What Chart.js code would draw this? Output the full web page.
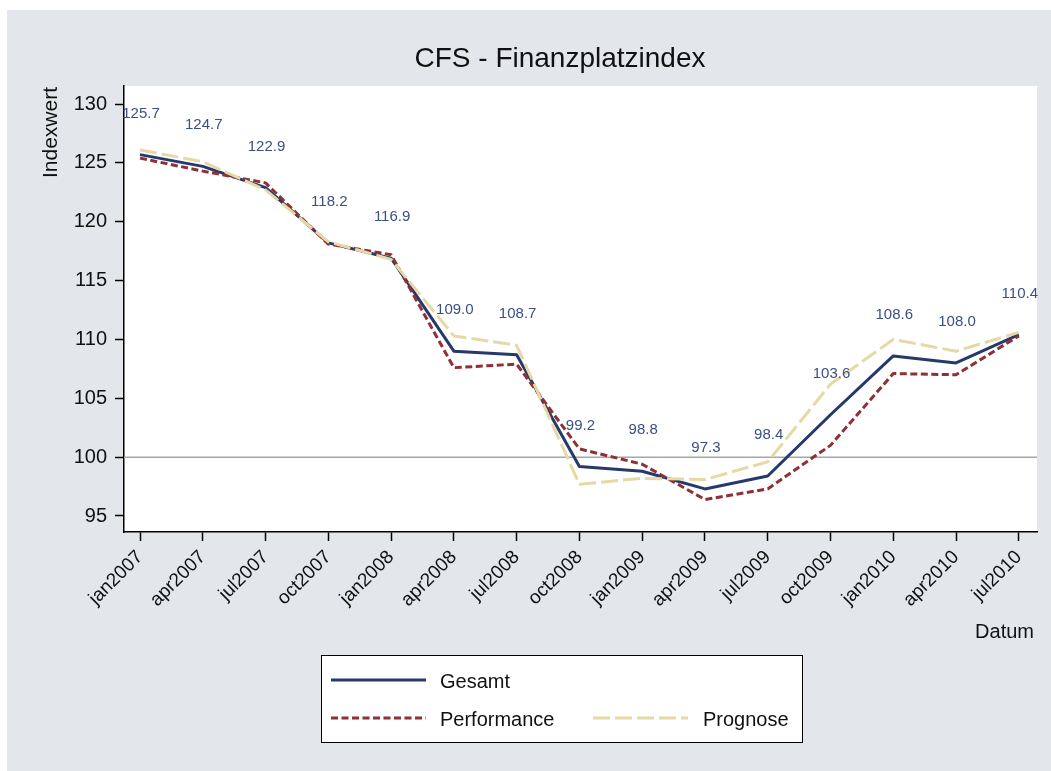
<!DOCTYPE html>
<html>
<head>
<meta charset="utf-8">
<script src="https://cdn.jsdelivr.net/npm/chart.js@4.4.1/dist/chart.umd.min.js"></script>
<style>
    body { margin: 0; background: #ffffff; }
    canvas { display: block; }
</style>
</head>
<body>
<canvas id="chart" width="1051" height="771"></canvas>
<script>
const dateLabels = ["jan2007", "apr2007", "jul2007", "oct2007", "jan2008", "apr2008", "jul2008", "oct2008",
    "jan2009", "apr2009", "jul2009", "oct2009", "jan2010", "apr2010", "jul2010"]
const gesamt = [125.7, 124.7, 122.9, 118.2, 116.9, 109.0, 108.7, 99.2, 98.8, 97.3, 98.4, 103.6, 108.6, 108.0, 110.4]
const performance = [125.4, 124.3, 123.3, 118.1, 117.2, 107.6, 107.9, 100.7, 99.4, 96.4, 97.3, 101.0, 107.1, 107.0, 110.3]
const prognose = [126.1, 125.1, 122.7, 118.3, 116.8, 110.3, 109.5, 97.7, 98.2, 98.1, 99.6, 106.2, 110.0, 109.0, 110.6]
const yTicks = [95, 100, 105, 110, 115, 120, 125, 130]
const refLine = 100

const FONT = "'Liberation Sans', Arial, Helvetica, sans-serif"
const NAVY = "#26396b"
const MAROON = "#8f2f36"
const SAND = "#e6d9a6"
const LABEL_BLUE = "#3b4f82"

const toPoints = arr => arr.map((v, i) => ({ x: i, y: v }))

const decorPlugin = {
    id: "decor",
    beforeDraw(chart) {
        const { ctx, chartArea } = chart
        ctx.save()
        ctx.fillStyle = "#ffffff"
        ctx.fillRect(0, 0, chart.width, chart.height)
        ctx.fillStyle = "#e3e6ea"
        ctx.fillRect(7, 10, chart.width - 7, chart.height - 10)
        ctx.fillStyle = "#ffffff"
        ctx.fillRect(chartArea.left, chartArea.top, chartArea.right - chartArea.left, chartArea.bottom - chartArea.top)
        ctx.restore()
    },
    beforeDatasetsDraw(chart) {
        const { ctx, chartArea, scales } = chart
        const y = scales.y.getPixelForValue(refLine)
        ctx.save()
        ctx.strokeStyle = "#a6a6a6"
        ctx.lineWidth = 1.5
        ctx.beginPath()
        ctx.moveTo(chartArea.left, y)
        ctx.lineTo(chartArea.right, y)
        ctx.stroke()
        ctx.restore()
    },
    afterDraw(chart) {
        const { ctx, scales } = chart
        ctx.save()

        // value labels for Gesamt
        ctx.fillStyle = LABEL_BLUE
        ctx.font = "15px " + FONT
        ctx.textAlign = "center"
        ctx.textBaseline = "alphabetic"
        gesamt.forEach((v, i) => {
            const px = scales.x.getPixelForValue(i)
            const py = scales.y.getPixelForValue(v)
            ctx.fillText(v.toFixed(1), px + 1, py - 37)
        })

        // title
        ctx.fillStyle = "#111111"
        ctx.font = "28px " + FONT
        ctx.fillText("CFS - Finanzplatzindex", 560, 67)

        // axis titles
        ctx.font = "20px " + FONT
        ctx.textAlign = "right"
        ctx.fillText("Datum", 1034, 638)
        ctx.save()
        ctx.translate(57, 87)
        ctx.rotate(-Math.PI / 2)
        ctx.textAlign = "right"
        ctx.font = "21px " + FONT
        ctx.fillText("Indexwert", 0, 0)
        ctx.restore()

        // legend
        ctx.fillStyle = "#ffffff"
        ctx.fillRect(321, 655, 481, 87)
        ctx.strokeStyle = "#000000"
        ctx.lineWidth = 1
        ctx.strokeRect(321.5, 655.5, 481, 87)

        const drawKey = (x1, x2, y, color, dash) => {
            ctx.save()
            ctx.strokeStyle = color
            ctx.lineWidth = 3
            ctx.lineCap = "butt"
            ctx.setLineDash(dash)
            ctx.beginPath()
            ctx.moveTo(x1, y)
            ctx.lineTo(x2, y)
            ctx.stroke()
            ctx.restore()
        }
        drawKey(331, 426, 680, NAVY, [])
        drawKey(331, 426, 718, MAROON, [7, 3.5])
        drawKey(593, 688, 718, SAND, [17, 5])

        ctx.fillStyle = "#111111"
        ctx.font = "20px " + FONT
        ctx.textAlign = "left"
        ctx.fillText("Gesamt", 440, 688)
        ctx.fillText("Performance", 440, 726)
        ctx.fillText("Prognose", 703, 726)

        ctx.restore()
    }
}

const ctx = document.getElementById("chart").getContext("2d")
const indexChart = new Chart(ctx, {
    type: "line",
    data: {
        datasets: [
            {
                label: "Gesamt",
                data: toPoints(gesamt),
                borderColor: NAVY,
                borderWidth: 3,
                order: 3
            },
            {
                label: "Performance",
                data: toPoints(performance),
                borderColor: MAROON,
                borderWidth: 3,
                borderDash: [7, 3.5],
                order: 2
            },
            {
                label: "Prognose",
                data: toPoints(prognose),
                borderColor: SAND,
                borderWidth: 3,
                borderDash: [17, 5],
                order: 1
            }
        ]
    },
    options: {
        responsive: false,
        animation: false,
        layout: {
            padding: { left: 0, top: 86, right: 14, bottom: 0 }
        },
        elements: {
            point: { radius: 0 },
            line: { tension: 0, fill: false, borderCapStyle: "butt", borderJoinStyle: "round" }
        },
        plugins: {
            legend: { display: false },
            title: { display: false },
            tooltip: { enabled: false }
        },
        scales: {
            x: {
                type: "linear",
                min: -0.255,
                max: 14.29,
                afterBuildTicks: scale => {
                    scale.ticks = dateLabels.map((_, i) => ({ value: i }))
                },
                afterFit: scale => { scale.height = 239 },
                ticks: {
                    autoSkip: false,
                    minRotation: 45,
                    maxRotation: 45,
                    padding: 5,
                    color: "#111111",
                    font: { family: FONT, size: 19 },
                    callback: value => dateLabels[value]
                },
                grid: {
                    drawOnChartArea: false,
                    drawTicks: true,
                    tickLength: 9,
                    tickWidth: 1.5,
                    color: "#000000"
                },
                border: { display: true, color: "#000000", width: 1.5 }
            },
            y: {
                type: "linear",
                min: 93.64,
                max: 131.53,
                afterBuildTicks: scale => {
                    scale.ticks = yTicks.map(v => ({ value: v }))
                },
                afterFit: scale => { scale.width = 124 },
                ticks: {
                    padding: 8,
                    color: "#111111",
                    font: { family: FONT, size: 20 }
                },
                grid: {
                    drawOnChartArea: false,
                    drawTicks: true,
                    tickLength: 9,
                    tickWidth: 1.5,
                    color: "#000000"
                },
                border: { display: true, color: "#000000", width: 1.5 }
            }
        }
    },
    plugins: [decorPlugin]
})
</script>
</body>
</html>
